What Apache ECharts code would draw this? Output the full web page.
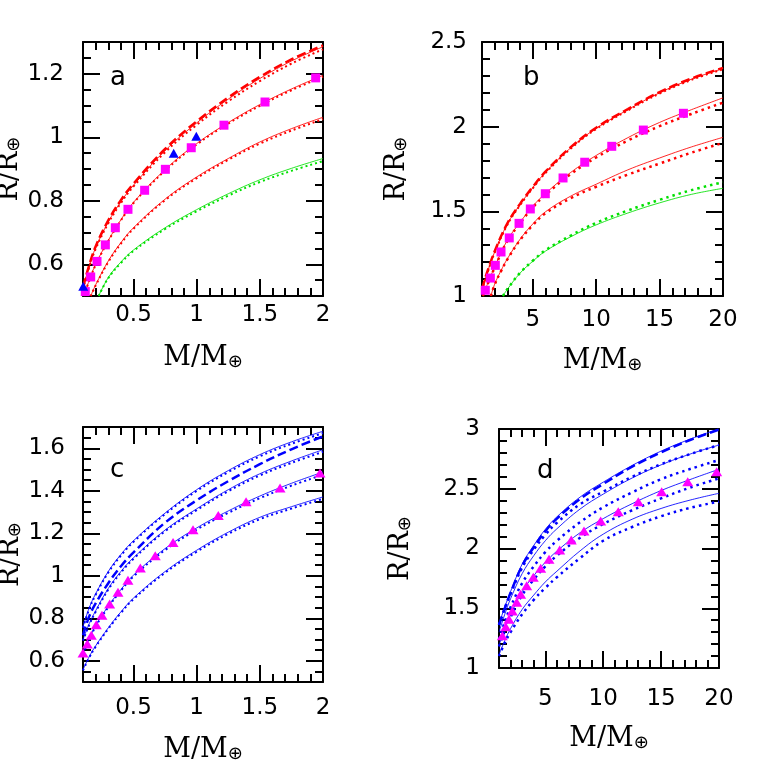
<!DOCTYPE html>
<html><head><meta charset="utf-8">
<script src="https://cdn.jsdelivr.net/npm/echarts@6/dist/echarts.min.js"></script>
<style>html,body{margin:0;padding:0;background:#fff}#c{width:763px;height:763px}</style>
</head><body><div id="c"></div>
<script>
// ---------- Panel a : M/M⊕ 0.1–2, R/R⊕ 0.5–1.3 (red / green) ----------
const a_x = [0.1, 0.15, 0.2, 0.3, 0.4, 0.5, 0.75, 1, 1.25, 1.5, 1.75, 2];
const a1_solid = [0.525, 0.595, 0.652, 0.733, 0.797, 0.849, 0.958, 1.045, 1.12, 1.185, 1.24, 1.285];
const a1_dash  = [0.528, 0.598, 0.656, 0.738, 0.802, 0.854, 0.963, 1.05, 1.125, 1.19, 1.245, 1.289];
const a1_dot   = [0.522, 0.592, 0.648, 0.729, 0.793, 0.845, 0.953, 1.039, 1.113, 1.177, 1.232, 1.277];
const a2_x = [0.105, 0.15, 0.2, 0.3, 0.4, 0.5, 0.75, 1, 1.25, 1.5, 1.75, 2];
const a2_solid = [0.5, 0.55, 0.60, 0.675, 0.74, 0.795, 0.898, 0.98, 1.046, 1.103, 1.152, 1.195];
const a2_dot   = [0.5, 0.548, 0.598, 0.673, 0.738, 0.793, 0.895, 0.977, 1.043, 1.099, 1.148, 1.19];
const a3_x = [0.161, 0.2, 0.3, 0.4, 0.5, 0.75, 1, 1.25, 1.5, 1.75, 2];
const a3_solid = [0.5, 0.535, 0.61, 0.668, 0.715, 0.805, 0.875, 0.933, 0.985, 1.027, 1.063];
const a3_dot   = [0.5, 0.533, 0.607, 0.665, 0.712, 0.802, 0.871, 0.929, 0.98, 1.021, 1.057];
const a4_x = [0.224, 0.3, 0.4, 0.5, 0.75, 1, 1.25, 1.5, 1.75, 2];
const a4_solid = [0.5, 0.558, 0.607, 0.645, 0.715, 0.772, 0.822, 0.866, 0.902, 0.933];
const a4_dot   = [0.5, 0.556, 0.604, 0.642, 0.711, 0.767, 0.816, 0.859, 0.894, 0.925];
const a_sq_x = [0.118, 0.161, 0.211, 0.277, 0.356, 0.456, 0.588, 0.752, 0.957, 1.216, 1.541, 1.942];
const a_sq_y = [0.514, 0.56, 0.609, 0.661, 0.715, 0.773, 0.833, 0.899, 0.967, 1.038, 1.111, 1.187];
const a_tri_x = [0.102, 0.818, 0.997];
const a_tri_y = [0.531, 0.95, 1.003];

// ---------- Panel b : M/M⊕ 1–20, R/R⊕ 1–2.5 ----------
const b_x = [1, 1.25, 1.5, 2, 3, 4, 5, 6, 8, 10, 12.5, 15, 17.5, 20];
const b1_solid = [1.035, 1.10, 1.157, 1.26, 1.425, 1.54, 1.64, 1.73, 1.875, 1.99, 2.10, 2.20, 2.28, 2.343];
const b1_dash  = [1.039, 1.104, 1.161, 1.264, 1.429, 1.544, 1.644, 1.734, 1.879, 1.994, 2.104, 2.204, 2.284, 2.347];
const b1_dot   = [1.031, 1.096, 1.153, 1.256, 1.421, 1.536, 1.636, 1.726, 1.871, 1.986, 2.096, 2.196, 2.276, 2.339];
const b2_x = [1.07, 1.25, 1.5, 2, 3, 4, 5, 6, 8, 10, 12.5, 15, 17.5, 20];
const b2_solid = [1.0, 1.037, 1.083, 1.172, 1.33, 1.435, 1.53, 1.605, 1.73, 1.83, 1.935, 2.025, 2.10, 2.17];
const b2_dot   = [1.0, 1.035, 1.080, 1.168, 1.325, 1.43, 1.523, 1.597, 1.72, 1.818, 1.918, 2.003, 2.075, 2.142];
const b3_x = [1.7, 2, 2.5, 3, 4, 5, 6, 8, 10, 12.5, 15, 17.5, 20];
const b3_solid = [1.0, 1.07, 1.15, 1.22, 1.335, 1.425, 1.497, 1.59, 1.66, 1.745, 1.815, 1.88, 1.937];
const b3_dot   = [1.0, 1.068, 1.147, 1.216, 1.33, 1.418, 1.488, 1.578, 1.645, 1.717, 1.782, 1.846, 1.904];
const b4_x = [2.65, 3, 4, 5, 6, 8, 10, 12.5, 15, 17.5, 20];
const b4_solid = [1.0, 1.04, 1.135, 1.205, 1.265, 1.35, 1.42, 1.49, 1.55, 1.60, 1.636];
const b4_dot   = [1.0, 1.041, 1.137, 1.208, 1.27, 1.357, 1.432, 1.505, 1.568, 1.625, 1.672];
const b_sq_x = [1.26, 1.66, 2.05, 2.5, 3.15, 3.92, 4.81, 5.99, 7.39, 9.1, 11.23, 13.72, 16.88];
const b_sq_y = [1.034, 1.106, 1.181, 1.26, 1.343, 1.429, 1.514, 1.604, 1.697, 1.79, 1.884, 1.98, 2.079];

// ---------- Panel c : M/M⊕ 0.1–2, R/R⊕ 0.5–1.7 (blue) ----------
const c_x = [0.1, 0.15, 0.2, 0.3, 0.4, 0.5, 0.75, 1, 1.25, 1.5, 1.75, 2];
const c1_solid = [0.76, 0.85, 0.915, 1.02, 1.10, 1.165, 1.295, 1.405, 1.495, 1.57, 1.63, 1.68];
const c1_dot   = [0.755, 0.845, 0.91, 1.015, 1.095, 1.16, 1.29, 1.399, 1.488, 1.562, 1.621, 1.671];
const c2_dash  = [0.72, 0.81, 0.87, 0.965, 1.045, 1.11, 1.25, 1.355, 1.445, 1.525, 1.595, 1.656];
const c3_solid = [0.70, 0.775, 0.835, 0.94, 1.02, 1.085, 1.215, 1.315, 1.405, 1.48, 1.54, 1.593];
const c3_dot   = [0.695, 0.77, 0.83, 0.935, 1.015, 1.08, 1.21, 1.309, 1.398, 1.472, 1.531, 1.583];
const c5_solid = [0.636, 0.703, 0.765, 0.857, 0.935, 1.003, 1.128, 1.225, 1.305, 1.375, 1.435, 1.488];
const c5_dot   = [0.632, 0.699, 0.761, 0.852, 0.93, 0.997, 1.121, 1.217, 1.296, 1.365, 1.424, 1.475];
const c4_solid = [0.558, 0.62, 0.67, 0.755, 0.83, 0.895, 1.02, 1.12, 1.205, 1.275, 1.325, 1.371];
const c4_dot   = [0.555, 0.616, 0.666, 0.75, 0.825, 0.89, 1.014, 1.113, 1.197, 1.266, 1.316, 1.362];
const c_tri_x = [0.1, 0.134, 0.166, 0.205, 0.25, 0.311, 0.377, 0.456, 0.554, 0.672, 0.813, 0.971, 1.171, 1.391, 1.66, 1.976];
const c_tri_y = [0.636, 0.679, 0.72, 0.77, 0.814, 0.867, 0.922, 0.979, 1.036, 1.094, 1.157, 1.217, 1.283, 1.348, 1.413, 1.484];

// ---------- Panel d : M/M⊕ 1–20, R/R⊕ 1–3 ----------
const d_x = [1, 1.5, 2, 3, 4, 5, 6, 8, 10, 12.5, 15, 17.5, 20];
const d1_solid = [1.37, 1.51, 1.64, 1.87, 2.025, 2.16, 2.265, 2.43, 2.555, 2.695, 2.815, 2.915, 3.0];
const d2_dash  = [1.36, 1.50, 1.63, 1.855, 2.01, 2.145, 2.25, 2.415, 2.54, 2.685, 2.805, 2.908, 2.995];
const d1_dot   = [1.36, 1.50, 1.62, 1.84, 1.99, 2.115, 2.215, 2.37, 2.475, 2.60, 2.705, 2.79, 2.866];
const d3_solid = [1.30, 1.45, 1.58, 1.79, 1.94, 2.065, 2.165, 2.33, 2.455, 2.59, 2.70, 2.79, 2.866];
const d3_dot   = [1.24, 1.385, 1.51, 1.71, 1.85, 1.97, 2.065, 2.22, 2.345, 2.47, 2.58, 2.665, 2.74];
const d5_solid = [1.19, 1.325, 1.445, 1.64, 1.772, 1.885, 1.978, 2.132, 2.25, 2.375, 2.485, 2.577, 2.663];
const d5_dot   = [1.18, 1.31, 1.425, 1.61, 1.74, 1.85, 1.94, 2.09, 2.205, 2.32, 2.42, 2.51, 2.587];
const d4_solid = [1.11, 1.23, 1.33, 1.49, 1.61, 1.72, 1.81, 1.98, 2.12, 2.245, 2.335, 2.405, 2.462];
const d4_dot   = [1.10, 1.21, 1.30, 1.45, 1.57, 1.67, 1.76, 1.92, 2.065, 2.18, 2.27, 2.34, 2.392];
const d_tri_x = [1.29, 1.58, 1.86, 2.15, 2.53, 2.87, 3.39, 3.96, 4.6, 5.32, 6.24, 7.24, 8.34, 9.78, 11.3, 13.03, 15.05, 17.3, 19.8];
const d_tri_y = [1.27, 1.346, 1.407, 1.477, 1.55, 1.617, 1.689, 1.759, 1.834, 1.91, 1.987, 2.071, 2.146, 2.23, 2.308, 2.392, 2.475, 2.559, 2.643];

// ---------- Tick values and labels ----------
const xSmall_major = [0.5, 1, 1.5, 2];
const xSmall_labels = ['0.5', '1', '1.5', '2'];
const xSmall_minor = [0.2, 0.3, 0.4, 0.6, 0.7, 0.8, 0.9, 1.1, 1.2, 1.3, 1.4, 1.6, 1.7, 1.8, 1.9];
const xBig_major = [5, 10, 15, 20];
const xBig_labels = ['5', '10', '15', '20'];
const xBig_minor = [2, 3, 4, 6, 7, 8, 9, 11, 12, 13, 14, 16, 17, 18, 19];
const ya_major = [0.6, 0.8, 1.0, 1.2];
const ya_labels = ['0.6', '0.8', '1', '1.2'];
const ya_minor = [0.55, 0.65, 0.7, 0.75, 0.85, 0.9, 0.95, 1.05, 1.1, 1.15, 1.25];
const yb_major = [1.5, 2, 2.5];
const yb_all = [1, 1.5, 2, 2.5];
const yb_all_labels = ['1', '1.5', '2', '2.5'];
const yb_minor = [1.1, 1.2, 1.3, 1.4, 1.6, 1.7, 1.8, 1.9, 2.1, 2.2, 2.3, 2.4];
const yc_major = [0.6, 0.8, 1.0, 1.2, 1.4, 1.6];
const yc_labels = ['0.6', '0.8', '1', '1.2', '1.4', '1.6'];
const yc_minor = [0.55, 0.65, 0.7, 0.75, 0.85, 0.9, 0.95, 1.05, 1.1, 1.15, 1.25, 1.3, 1.35, 1.45, 1.5, 1.55, 1.65];
const yd_major = [1.5, 2, 2.5];
const yd_all = [1, 1.5, 2, 2.5, 3];
const yd_all_labels = ['1', '1.5', '2', '2.5', '3'];
const yd_minor = [1.1, 1.2, 1.3, 1.4, 1.6, 1.7, 1.8, 1.9, 2.1, 2.2, 2.3, 2.4, 2.6, 2.7, 2.8, 2.9];
const panelLetters = ['a', 'b', 'c', 'd'];

// ---------- Styling / layout ----------
const RED = '#ff0000', GREEN = '#00e000', BLUE = '#0000ff', MAG = '#ff00ff', BLACK = '#000';
const NUMFONT = 'DejaVu Sans', SERIF = 'DejaVu Serif';
const grids = [
  {left: 83, top: 42, width: 240, height: 254},
  {left: 482, top: 42, width: 241, height: 254},
  {left: 83, top: 427, width: 240, height: 255},
  {left: 499, top: 429, width: 220, height: 239}
];

function nameStyle() {
  return {
    rich: {
      m: {fontFamily: SERIF, fontSize: 27, lineHeight: 27, color: BLACK, verticalAlign: 'top'},
      s: {fontFamily: 'DejaVu Sans', fontSize: 18, lineHeight: 18, color: BLACK, padding: [15, 0, 0, 0], verticalAlign: 'bottom'}
    }
  };
}

function axes(dim, gi, c) {
  const pos = dim === 'x' ? ['bottom', 'top'] : ['left', 'right'];
  const common = {type: 'value', gridIndex: gi, min: c.min, max: c.max, splitLine: {show: false}, minorTick: {show: false}};
  const tick = (vals, len) => ({show: true, inside: true, length: len, customValues: vals, lineStyle: {color: BLACK, width: 2}});
  const main = Object.assign({}, common, {
    position: pos[0],
    axisLine: {show: true, onZero: false, lineStyle: {color: BLACK, width: 2}},
    axisTick: tick(c.major, 17),
    axisLabel: {show: true, customValues: c.labelVals, margin: c.margin,
      formatter: v => c.labels[c.labelVals.indexOf(v)], fontFamily: NUMFONT, fontSize: 23, color: BLACK},
    name: c.name, nameLocation: 'middle', nameGap: c.nameGap, nameTextStyle: nameStyle()
  });
  const mainMinor = Object.assign({}, common, {position: pos[0], axisLine: {show: false, onZero: false},
    axisTick: tick(c.minor, 8), axisLabel: {show: false}});
  const opp = Object.assign({}, common, {position: pos[1],
    axisLine: {show: true, onZero: false, lineStyle: {color: BLACK, width: 2}},
    axisTick: tick(c.major, 17), axisLabel: {show: false}});
  const oppMinor = Object.assign({}, common, {position: pos[1], axisLine: {show: false, onZero: false},
    axisTick: tick(c.minor, 8), axisLabel: {show: false}});
  return [main, mainMinor, opp, oppMinor];
}

const MNAME = '{m|M/M}{s|⊕}';
const RNAME = '{m|R/R}{s|⊕}';
const xAxis = [].concat(
  axes('x', 0, {min: 0.1, max: 2, major: xSmall_major, labelVals: xSmall_major, labels: xSmall_labels, minor: xSmall_minor, margin: 8, name: MNAME, nameGap: 48}),
  axes('x', 1, {min: 1, max: 20, major: xBig_major, labelVals: xBig_major, labels: xBig_labels, minor: xBig_minor, margin: 13, name: MNAME, nameGap: 51}),
  axes('x', 2, {min: 0.1, max: 2, major: xSmall_major, labelVals: xSmall_major, labels: xSmall_labels, minor: xSmall_minor, margin: 15, name: MNAME, nameGap: 54}),
  axes('x', 3, {min: 1, max: 20, major: xBig_major, labelVals: xBig_major, labels: xBig_labels, minor: xBig_minor, margin: 20, name: MNAME, nameGap: 57})
);
const yAxis = [].concat(
  axes('y', 0, {min: 0.5, max: 1.3, major: ya_major, labelVals: ya_major, labels: ya_labels, minor: ya_minor, margin: 19, name: RNAME, nameGap: 56}),
  axes('y', 1, {min: 1, max: 2.5, major: yb_major, labelVals: yb_all, labels: yb_all_labels, minor: yb_minor, margin: 15, name: RNAME, nameGap: 72}),
  axes('y', 2, {min: 0.5, max: 1.7, major: yc_major, labelVals: yc_major, labels: yc_labels, minor: yc_minor, margin: 18, name: RNAME, nameGap: 56}),
  axes('y', 3, {min: 1, max: 3, major: yd_major, labelVals: yd_all, labels: yd_all_labels, minor: yd_minor, margin: 19, name: RNAME, nameGap: 85})
);

function zip(xs, ys) { return xs.map((x, i) => [x, ys[i]]); }
const STYLES = {
  solid: {width: 1, type: 'solid', opacity: 0.85},
  dot: {width: 2, type: [2, 3]},
  dotw: {width: 2.5, type: [2.5, 4]},
  dash: {width: 2.5, type: [9, 4]}
};
function line(gi, xs, ys, color, kind) {
  return {type: 'line', xAxisIndex: gi * 4, yAxisIndex: gi * 4, data: zip(xs, ys),
    smooth: 0.4, showSymbol: false, symbol: 'none', clip: true, silent: true,
    lineStyle: Object.assign({color: color}, STYLES[kind]), z: 2};
}
function marks(gi, xs, ys, color, symbol, size) {
  return {type: 'scatter', xAxisIndex: gi * 4, yAxisIndex: gi * 4, data: zip(xs, ys),
    symbol: symbol, symbolSize: size, itemStyle: {color: color, opacity: 1}, silent: true, z: 5, clip: false};
}

const series = [
  // a
  line(0, a_x, a1_solid, RED, 'solid'), line(0, a_x, a1_dot, RED, 'dot'), line(0, a_x, a1_dash, RED, 'dash'),
  line(0, a2_x, a2_solid, RED, 'solid'), line(0, a2_x, a2_dot, RED, 'dot'),
  line(0, a3_x, a3_solid, RED, 'solid'), line(0, a3_x, a3_dot, RED, 'dot'),
  line(0, a4_x, a4_solid, GREEN, 'solid'), line(0, a4_x, a4_dot, GREEN, 'dot'),
  marks(0, a_sq_x, a_sq_y, MAG, 'rect', 9),
  marks(0, a_tri_x, a_tri_y, BLUE, 'triangle', [10, 9]),
  // b
  line(1, b_x, b1_solid, RED, 'solid'), line(1, b_x, b1_dot, RED, 'dot'), line(1, b_x, b1_dash, RED, 'dash'),
  line(1, b2_x, b2_solid, RED, 'solid'), line(1, b2_x, b2_dot, RED, 'dotw'),
  line(1, b3_x, b3_solid, RED, 'solid'), line(1, b3_x, b3_dot, RED, 'dotw'),
  line(1, b4_x, b4_solid, GREEN, 'solid'), line(1, b4_x, b4_dot, GREEN, 'dotw'),
  marks(1, b_sq_x, b_sq_y, MAG, 'rect', 9),
  // c
  line(2, c_x, c1_solid, BLUE, 'solid'), line(2, c_x, c1_dot, BLUE, 'dot'),
  line(2, c_x, c2_dash, BLUE, 'dash'),
  line(2, c_x, c3_solid, BLUE, 'solid'), line(2, c_x, c3_dot, BLUE, 'dot'),
  line(2, c_x, c5_solid, BLUE, 'solid'), line(2, c_x, c5_dot, BLUE, 'dot'),
  line(2, c_x, c4_solid, BLUE, 'solid'), line(2, c_x, c4_dot, BLUE, 'dot'),
  marks(2, c_tri_x, c_tri_y, MAG, 'triangle', [11, 9]),
  // d
  line(3, d_x, d1_solid, BLUE, 'solid'), line(3, d_x, d2_dash, BLUE, 'dash'), line(3, d_x, d1_dot, BLUE, 'dotw'),
  line(3, d_x, d3_solid, BLUE, 'solid'), line(3, d_x, d3_dot, BLUE, 'dotw'),
  line(3, d_x, d5_solid, BLUE, 'solid'), line(3, d_x, d5_dot, BLUE, 'dotw'),
  line(3, d_x, d4_solid, BLUE, 'solid'), line(3, d_x, d4_dot, BLUE, 'dotw'),
  marks(3, d_tri_x, d_tri_y, MAG, 'triangle', [11, 9])
];

const letterPos = [[110, 91], [523, 91], [110, 483], [537, 484]];
const graphic = panelLetters.map((t, i) => ({
  type: 'text', x: letterPos[i][0], y: letterPos[i][1], silent: true,
  style: {text: t, fontFamily: 'DejaVu Sans', fontSize: 26, fill: BLACK, align: 'left', verticalAlign: 'bottom'}
}));

const chart = echarts.init(document.getElementById('c'), null, {renderer: 'canvas'});
chart.setOption({
  animation: false,
  backgroundColor: '#fff',
  textStyle: {fontFamily: NUMFONT},
  grid: grids.map(g => Object.assign({containLabel: false, outerBoundsMode: 'none'}, g)),
  xAxis: xAxis,
  yAxis: yAxis,
  series: series,
  graphic: graphic
});
</script></body></html>
